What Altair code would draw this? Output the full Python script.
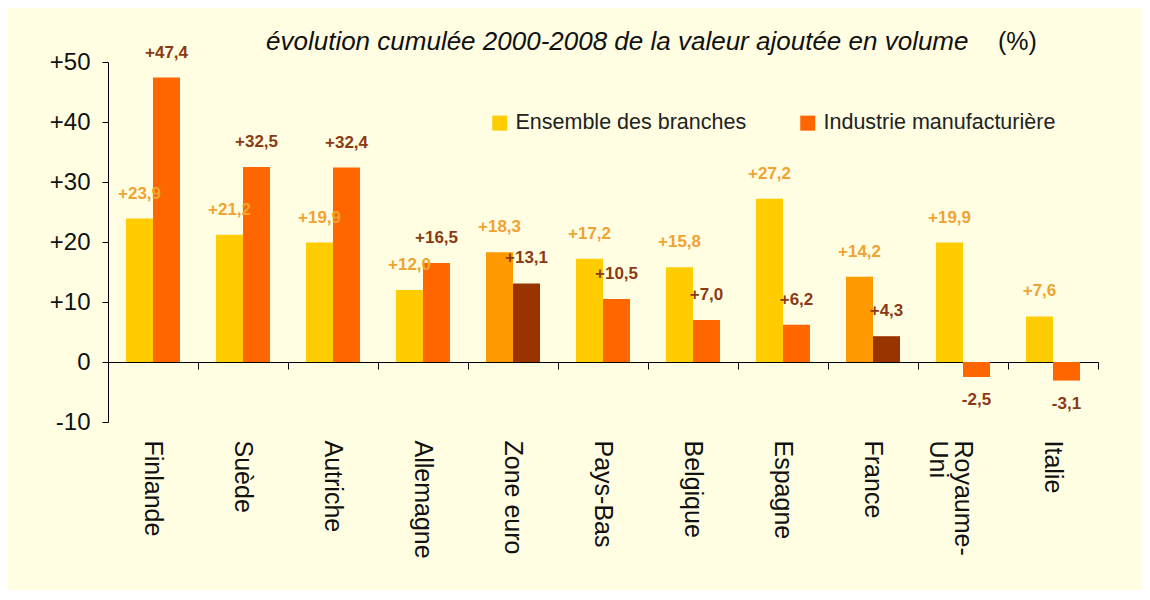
import altair as alt
import pandas as pd

# ---- données ----
pays = ["Finlande", "Suède", "Autriche", "Allemagne", "Zone euro", "Pays-Bas",
        "Belgique", "Espagne", "France", "Royaume-Uni", "Italie"]
ensemble = [23.9, 21.2, 19.9, 12.0, 18.3, 17.2, 15.8, 27.2, 14.2, 19.9, 7.6]
industrie = [47.4, 32.5, 32.4, 16.5, 13.1, 10.5, 7.0, 6.2, 4.3, -2.5, -3.1]
series = ["Ensemble des branches", "Industrie manufacturière"]
mis_en_avant = ["Zone euro", "France"]
y_ticks = [-10, 0, 10, 20, 30, 40, 50]
titre = "évolution cumulée 2000-2008 de la valeur ajoutée en volume"
unite = "(%)"

rows = []
for p, e, i in zip(pays, ensemble, industrie):
    rows.append({"pays": p, "serie": series[0], "valeur": e})
    rows.append({"pays": p, "serie": series[1], "valeur": i})
df = pd.DataFrame(rows)
df["etiquette"] = df["valeur"].map(lambda v: f"{v:+.1f}".replace(".", ","))
df["avant"] = df["pays"].isin(mis_en_avant)

FONT = "Liberation Sans"

x_scale = alt.Scale(paddingInner=0, paddingOuter=0)
xo = alt.XOffset("serie:N", sort=series,
                 scale=alt.Scale(domain=series, paddingInner=0, paddingOuter=0.667))
y_scale = alt.Scale(domain=[-10, 50], nice=False)

axis_labels = alt.Axis(orient="bottom", title=None, domain=False, ticks=False,
                       labelAngle=90, labelFontSize=25, labelFont=FONT,
                       labelColor="#111111", labelPadding=18, labelOverlap=False,
                       labelBound=False, labelLimit=300, labelLineHeight=25,
                       labelExpr="datum.value == 'Royaume-Uni' ? ['Royaume-', 'Uni'] : datum.value",
                       grid=False)
axis_zero = alt.Axis(orient="bottom", title=None, labels=False, offset=-60,
                     domain=True, domainColor="#000000", domainWidth=1,
                     ticks=True, tickBand="extent", tickSize=7, tickColor="#000000",
                     tickWidth=1, grid=False)
axis_y = alt.Axis(title=None, values=y_ticks,
                  labelExpr="datum.value > 0 ? '+' + datum.value : '' + datum.value",
                  labelFontSize=24, labelFont=FONT, labelColor="#111111",
                  labelPadding=12, tickSize=6, tickColor="#000000", tickWidth=1,
                  domainColor="#000000", domainWidth=1, grid=False)

base = alt.Chart(df)

bars = base.mark_bar().encode(
    x=alt.X("pays:N", sort=pays, scale=x_scale, axis=axis_labels),
    xOffset=xo,
    y=alt.Y("valeur:Q", scale=y_scale, axis=axis_y),
    color=alt.Color(
        "serie:N", sort=series,
        scale=alt.Scale(domain=series, range=["#FFCC00", "#FF6600"]),
        legend=alt.Legend(title=None, orient="none", legendX=381, legendY=50,
                          direction="horizontal", symbolType="square",
                          symbolSize=225, symbolStrokeWidth=0,
                          labelFontSize=21.5, labelFont=FONT, labelColor="#222222",
                          labelOffset=5, columnPadding=50, padding=0, labelLimit=400),
        condition=[
            {"test": f"datum.avant && datum.serie == '{series[0]}'", "value": "#FF9900"},
            {"test": "datum.avant", "value": "#993300"},
        ],
    ),
)

label_color = alt.condition(alt.datum.serie == series[0],
                            alt.value("#EFA330"), alt.value("#8B3A14"))

pos_labels = base.transform_filter("datum.valeur >= 0").mark_text(
    baseline="middle", dy=-25, fontSize=17, fontWeight="bold", font=FONT
).encode(
    x=alt.X("pays:N", sort=pays, scale=x_scale, axis=axis_zero),
    xOffset=xo,
    y=alt.Y("valeur:Q", scale=y_scale, axis=axis_y),
    text="etiquette:N",
    color=label_color,
)

neg_labels = base.transform_filter("datum.valeur < 0").mark_text(
    baseline="middle", dy=23, fontSize=17, fontWeight="bold", font=FONT
).encode(
    x=alt.X("pays:N", sort=pays, scale=x_scale, axis=None),
    xOffset=xo,
    y=alt.Y("valeur:Q", scale=y_scale, axis=axis_y),
    text="etiquette:N",
    color=label_color,
)

titre_df = pd.DataFrame({"t": [titre]})
unite_df = pd.DataFrame({"t": [unite]})
title_mark = alt.Chart(titre_df).mark_text(
    align="left", baseline="middle", fontSize=26, fontStyle="italic",
    font=FONT, color="#111111"
).encode(x=alt.value(158), y=alt.value(-20), text="t:N")
unit_mark = alt.Chart(unite_df).mark_text(
    align="left", baseline="middle", fontSize=25, font=FONT, color="#111111"
).encode(x=alt.value(890), y=alt.value(-20), text="t:N")

chart = alt.layer(bars, pos_labels, neg_labels, title_mark, unit_mark).resolve_axis(
    x="independent"
).properties(
    width=990, height=360,
    padding={"left": 100, "top": 54, "right": 44, "bottom": 168},
    autosize=alt.AutoSizeParams(type="none"),
    background="#FFFEE3",
).configure_view(stroke=None)

chart.save("out.html", embed_options={"renderer": "svg", "actions": False})
